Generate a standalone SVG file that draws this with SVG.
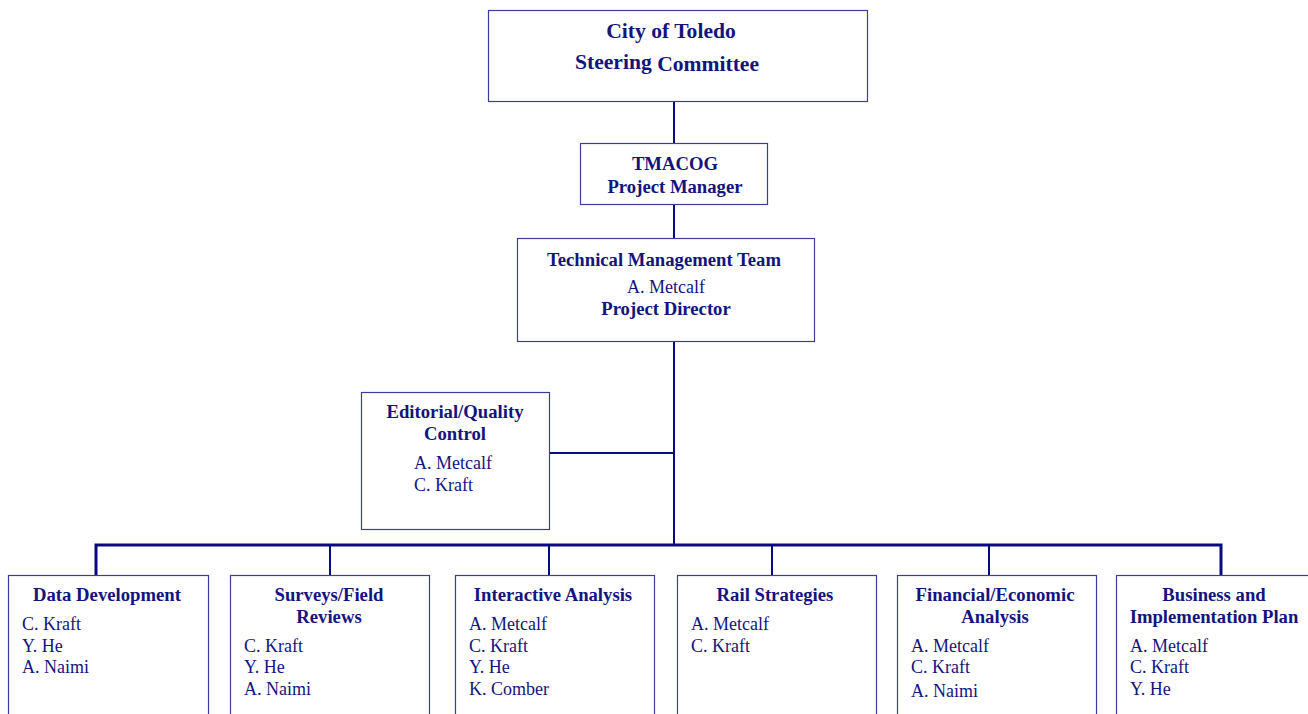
<svg xmlns="http://www.w3.org/2000/svg" width="1308" height="714" viewBox="0 0 1308 714">
<style>
.box{fill:#fff;stroke:#3c3c9c;stroke-width:1.2}
.c{stroke:#0a0a80;stroke-width:2;fill:none}
.bar{stroke:#0a0a80;stroke-width:3;fill:none}
text{font-family:"Liberation Serif","Times New Roman",serif;fill:#14147d}
.t{font-weight:bold;font-size:18.7px;text-anchor:middle}
.n{font-size:18px}
.big{font-weight:bold;font-size:21.6px;text-anchor:middle}
</style>
<rect width="1308" height="714" fill="#fff"/>
<g id="connectors">
<line class="c" x1="674" y1="102" x2="674" y2="143"/>
<line class="c" x1="674" y1="205" x2="674" y2="238"/>
<line class="c" x1="674" y1="342" x2="674" y2="545"/>
<line class="c" x1="549" y1="453" x2="674" y2="453"/>
<path class="bar" d="M96,575 V545 H1221 V575"/>
<line class="c" x1="330" y1="545" x2="330" y2="575"/>
<line class="c" x1="549" y1="545" x2="549" y2="575"/>
<line class="c" x1="772" y1="545" x2="772" y2="575"/>
<line class="c" x1="989" y1="545" x2="989" y2="575"/>
</g>
<g id="steering">
<rect class="box" x="488.5" y="10.5" width="379" height="91"/>
<text class="big" x="671" y="38">City of Toledo</text>
<text class="big" x="667" y="71"><tspan dy="-2">Steering</tspan> <tspan dy="2">Committee</tspan></text>
</g>
<g id="tmacog">
<rect class="box" x="580.5" y="143.5" width="187" height="61"/>
<text class="t" x="675" y="170">TMACOG</text>
<text class="t" x="675" y="193">Project Manager</text>
</g>
<g id="tmt">
<rect class="box" x="517.5" y="238.5" width="297" height="103"/>
<text class="t" x="664" y="266">Technical Management Team</text>
<text class="n" x="666" y="293" text-anchor="middle">A. Metcalf</text>
<text class="t" x="666" y="315">Project Director</text>
</g>
<g id="editorial">
<rect class="box" x="361.5" y="392.5" width="188" height="137"/>
<text class="t" x="455" y="418">Editorial/Quality</text>
<text class="t" x="455" y="440">Control</text>
<text class="n" x="414" y="469">A. Metcalf</text>
<text class="n" x="414" y="491">C. Kraft</text>
</g>
<g id="data">
<rect class="box" x="8.5" y="575.5" width="200" height="150"/>
<text class="t" x="107" y="601">Data Development</text>
<text class="n" x="22" y="630">C. Kraft</text>
<text class="n" x="22" y="652">Y. He</text>
<text class="n" x="22" y="673">A. Naimi</text>
</g>
<g id="surveys">
<rect class="box" x="230.5" y="575.5" width="199" height="150"/>
<text class="t" x="329" y="601">Surveys/Field</text>
<text class="t" x="329" y="623">Reviews</text>
<text class="n" x="244" y="652">C. Kraft</text>
<text class="n" x="244" y="673">Y. He</text>
<text class="n" x="244" y="695">A. Naimi</text>
</g>
<g id="interactive">
<rect class="box" x="455.5" y="575.5" width="199" height="150"/>
<text class="t" x="553" y="601">Interactive Analysis</text>
<text class="n" x="469" y="630">A. Metcalf</text>
<text class="n" x="469" y="652">C. Kraft</text>
<text class="n" x="469" y="673">Y. He</text>
<text class="n" x="469" y="695">K. Comber</text>
</g>
<g id="rail">
<rect class="box" x="677.5" y="575.5" width="199" height="150"/>
<text class="t" x="775" y="601">Rail Strategies</text>
<text class="n" x="691" y="630">A. Metcalf</text>
<text class="n" x="691" y="652">C. Kraft</text>
</g>
<g id="financial">
<rect class="box" x="897.5" y="575.5" width="199" height="150"/>
<text class="t" x="995" y="601">Financial/Economic</text>
<text class="t" x="995" y="623">Analysis</text>
<text class="n" x="911" y="652">A. Metcalf</text>
<text class="n" x="911" y="673">C. Kraft</text>
<text class="n" x="911" y="697">A. Naimi</text>
</g>
<g id="business">
<rect class="box" x="1116.5" y="575.5" width="200" height="150"/>
<text class="t" x="1214" y="601">Business and</text>
<text class="t" x="1214" y="623">Implementation Plan</text>
<text class="n" x="1130" y="652">A. Metcalf</text>
<text class="n" x="1130" y="673">C. Kraft</text>
<text class="n" x="1130" y="695">Y. He</text>
</g>
</svg>
